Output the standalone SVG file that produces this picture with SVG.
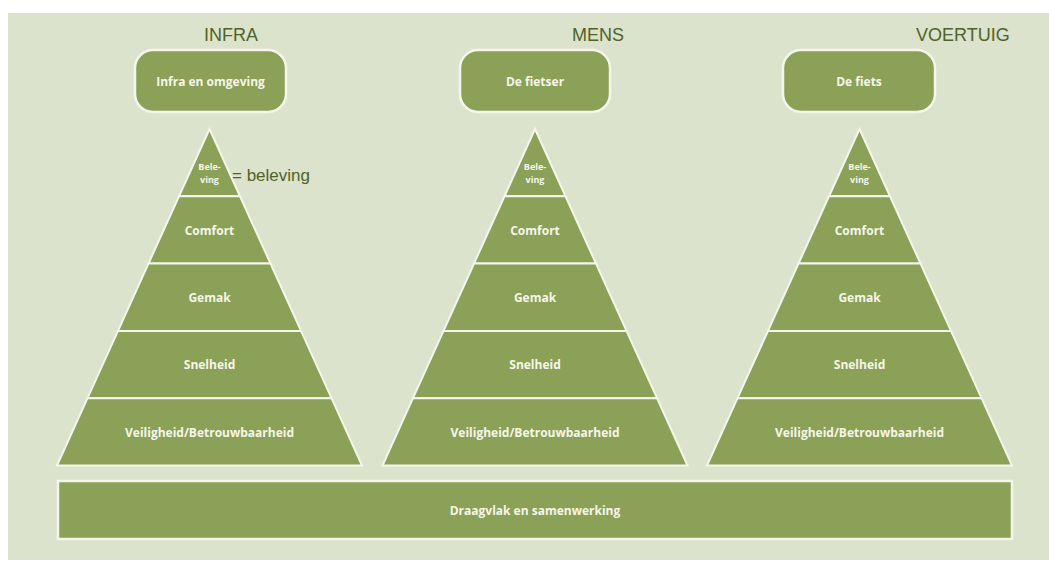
<svg xmlns="http://www.w3.org/2000/svg" width="1049" height="562" viewBox="0 0 1049 562">
<style>
.bg{fill:#DCE3CC}
.band{fill:#8AA157;stroke:#F4F6EC;stroke-width:2;stroke-linejoin:miter}
.box{fill:#8AA157;stroke:#F4F6EC;stroke-width:2.5}
.lbl{font-family:"Open Sans","DejaVu Sans",sans-serif;font-weight:bold;font-size:12px;fill:#F6F6EA;text-anchor:middle}
.sm{font-size:9px}
.title{font-family:"Liberation Sans",Arial,sans-serif;font-size:18px;fill:#4F6228}
.note{font-family:"Liberation Sans",Arial,sans-serif;font-size:17px;fill:#4F6228}
</style>
<rect class="bg" x="8" y="13" width="1041" height="547"/>
<text class="title" x="204" y="41">INFRA</text>
<text class="title" x="572" y="41">MENS</text>
<text class="title" x="916" y="41">VOERTUIG</text>

<g id="box-infra">
<rect class="box" x="135" y="50" width="151" height="62" rx="18"/>
<text class="lbl" x="210.5" y="86">Infra en omgeving</text>
</g>
<g id="box-mens">
<rect class="box" x="460" y="50" width="150" height="62" rx="18"/>
<text class="lbl" x="535" y="86">De fietser</text>
</g>
<g id="box-voertuig">
<rect class="box" x="783" y="50" width="152" height="62" rx="18"/>
<text class="lbl" x="859" y="86">De fiets</text>
</g>

<g id="pyramid-infra" transform="translate(209.5,0)">
<polygon class="band" points="0,129 30.5,196.3 -30.5,196.3"/>
<polygon class="band" points="-30.5,196.3 30.5,196.3 61,263.6 -61,263.6"/>
<polygon class="band" points="-61,263.6 61,263.6 91.5,330.9 -91.5,330.9"/>
<polygon class="band" points="-91.5,330.9 91.5,330.9 122,398.2 -122,398.2"/>
<polygon class="band" points="-122,398.2 122,398.2 152.5,465.5 -152.5,465.5"/>
<text class="lbl sm" x="0" y="170">Bele-</text>
<text class="lbl sm" x="0" y="182.5">ving</text>
<text class="lbl" x="0" y="235">Comfort</text>
<text class="lbl" x="0" y="302">Gemak</text>
<text class="lbl" x="0" y="369">Snelheid</text>
<text class="lbl" x="0" y="437">Veiligheid/Betrouwbaarheid</text>
</g>
<text class="note" x="232" y="181">= beleving</text>

<g id="pyramid-mens" transform="translate(535,0)">
<polygon class="band" points="0,129 30.5,196.3 -30.5,196.3"/>
<polygon class="band" points="-30.5,196.3 30.5,196.3 61,263.6 -61,263.6"/>
<polygon class="band" points="-61,263.6 61,263.6 91.5,330.9 -91.5,330.9"/>
<polygon class="band" points="-91.5,330.9 91.5,330.9 122,398.2 -122,398.2"/>
<polygon class="band" points="-122,398.2 122,398.2 152.5,465.5 -152.5,465.5"/>
<text class="lbl sm" x="0" y="170">Bele-</text>
<text class="lbl sm" x="0" y="182.5">ving</text>
<text class="lbl" x="0" y="235">Comfort</text>
<text class="lbl" x="0" y="302">Gemak</text>
<text class="lbl" x="0" y="369">Snelheid</text>
<text class="lbl" x="0" y="437">Veiligheid/Betrouwbaarheid</text>
</g>

<g id="pyramid-voertuig" transform="translate(859.5,0)">
<polygon class="band" points="0,129 30.5,196.3 -30.5,196.3"/>
<polygon class="band" points="-30.5,196.3 30.5,196.3 61,263.6 -61,263.6"/>
<polygon class="band" points="-61,263.6 61,263.6 91.5,330.9 -91.5,330.9"/>
<polygon class="band" points="-91.5,330.9 91.5,330.9 122,398.2 -122,398.2"/>
<polygon class="band" points="-122,398.2 122,398.2 152.5,465.5 -152.5,465.5"/>
<text class="lbl sm" x="0" y="170">Bele-</text>
<text class="lbl sm" x="0" y="182.5">ving</text>
<text class="lbl" x="0" y="235">Comfort</text>
<text class="lbl" x="0" y="302">Gemak</text>
<text class="lbl" x="0" y="369">Snelheid</text>
<text class="lbl" x="0" y="437">Veiligheid/Betrouwbaarheid</text>
</g>

<g id="base-bar">
<rect class="box" x="58" y="481" width="954" height="58" stroke-width="2"/>
<text class="lbl" x="535" y="515" font-size="11">Draagvlak en samenwerking</text>
</g>
<g id="connectors"/>
</svg>
